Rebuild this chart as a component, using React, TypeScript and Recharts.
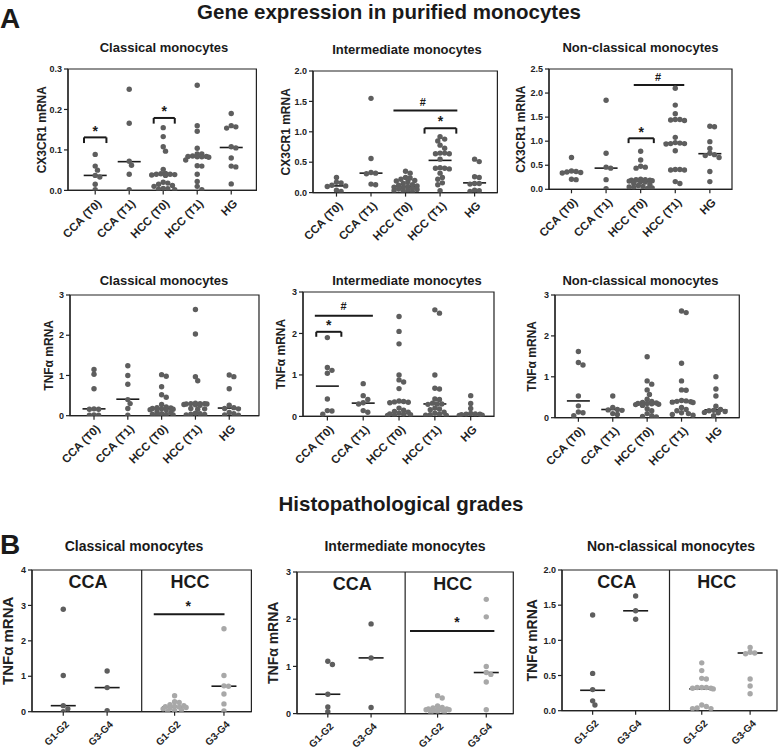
import React from 'react'
import {
  ScatterChart, Scatter, XAxis, YAxis, ReferenceLine, ReferenceArea, ReferenceDot,
} from 'recharts'

const FONT = '"Liberation Sans", Arial, Helvetica, sans-serif'
const DARK = '#5e5e5e'
const LIGHT = '#a8a8a8'
const INK = '#1a1a1a'

// categories
const cohortGroups = ['CCA (T0)', 'CCA (T1)', 'HCC (T0)', 'HCC (T1)', 'HG']
const gradeGroups = ['G1-G2', 'G3-G4', 'G1-G2', 'G3-G4']
const gradeCancers = ['CCA', 'HCC']

// y ticks
const ticksCx3Classical = [0, 0.1, 0.2, 0.3]
const ticksCx3Intermediate = [0, 0.5, 1, 1.5, 2]
const ticksCx3NonClassical = [0, 0.5, 1, 1.5, 2, 2.5]
const ticksTnf = [0, 1, 2, 3]
const ticksGradeClassical = [0, 1, 2, 3, 4]
const ticksGradeIntermediate = [0, 1, 2, 3]
const ticksGradeNonClassical = [0, 0.5, 1, 1.5, 2]

// A: CX3CR1 mRNA, one list per group (CCA T0, CCA T1, HCC T0, HCC T1, HG)
const cx3Classical = [
  [0.089, 0.06, 0.05, 0.037, 0.033, 0.015, 0.002],
  [0.25, 0.166, 0.072, 0.062, 0.04, 0.002],
  [0.155, 0.133, 0.108, 0.097, 0.052, 0.042, 0.041, 0.04, 0.04, 0.039, 0.038, 0.037, 0.02, 0.018, 0.015, 0.012, 0.01, 0.005, 0.004, 0.003, 0.002],
  [0.26, 0.16, 0.146, 0.104, 0.09, 0.09, 0.085, 0.084, 0.084, 0.083, 0.083, 0.082, 0.075, 0.061, 0.06, 0.04, 0.022, 0.01, 0.002],
  [0.19, 0.16, 0.157, 0.154, 0.108, 0.105, 0.08, 0.06, 0.058, 0.016],
]
const cx3ClassicalMedians = [0.037, 0.071, 0.04, 0.084, 0.106]

const cx3Intermediate = [
  [0.25, 0.17, 0.16, 0.12, 0.11, 0.1, 0.04, 0.02],
  [1.55, 0.56, 0.33, 0.32, 0.31, 0.14, 0.13],
  [0.35, 0.32, 0.25, 0.24, 0.22, 0.2, 0.19, 0.18, 0.15, 0.13, 0.12, 0.11, 0.1, 0.09, 0.08, 0.07, 0.06, 0.05, 0.04, 0.03, 0.02, 0.01],
  [0.92, 0.88, 0.85, 0.78, 0.73, 0.65, 0.65, 0.64, 0.64, 0.55, 0.41, 0.4, 0.4, 0.39, 0.32, 0.25, 0.22, 0.16, 0.13, 0.03],
  [0.55, 0.51, 0.26, 0.25, 0.15, 0.15, 0.14, 0.04, 0.03, 0.02],
]
const cx3IntermediateMedians = [0.11, 0.32, 0.1, 0.53, 0.16]

const cx3NonClassical = [
  [0.66, 0.38, 0.37, 0.36, 0.35, 0.34, 0.21, 0.2],
  [1.85, 0.75, 0.46, 0.44, 0.2, 0.01],
  [0.79, 0.61, 0.48, 0.46, 0.44, 0.21, 0.2, 0.2, 0.19, 0.19, 0.18, 0.17, 0.16, 0.15, 0.12, 0.1, 0.08, 0.06, 0.05, 0.04, 0.03, 0.02],
  [2.1, 1.75, 1.57, 1.45, 1.45, 1.44, 1.43, 1.08, 0.97, 0.96, 0.95, 0.95, 0.94, 0.8, 0.41, 0.41, 0.4, 0.4, 0.16, 0.12],
  [1.31, 1.3, 0.99, 0.85, 0.75, 0.72, 0.7, 0.66, 0.37, 0.16],
]
const cx3NonClassicalMedians = [0.36, 0.44, 0.16, 0.96, 0.74]

// A: TNFα mRNA
const tnfClassical = [
  [1.15, 1.03, 0.67, 0.17, 0.16, 0.16, 0.02, 0.01, 0.01],
  [1.24, 1.0, 0.78, 0.4, 0.3, 0.18, 0.01],
  [1.02, 0.98, 0.72, 0.52, 0.46, 0.28, 0.22, 0.2, 0.19, 0.18, 0.17, 0.16, 0.15, 0.15, 0.1, 0.08, 0.05, 0.04, 0.03, 0.02, 0.01],
  [2.64, 2.03, 0.97, 0.87, 0.31, 0.3, 0.3, 0.3, 0.29, 0.29, 0.28, 0.27, 0.26, 0.18, 0.17, 0.16, 0.06, 0.05, 0.04, 0.03, 0.02],
  [1.01, 0.97, 0.67, 0.26, 0.2, 0.18, 0.17, 0.08, 0.05, 0.02, 0.01],
]
const tnfClassicalMedians = [0.17, 0.41, 0.18, 0.29, 0.19]

const tnfIntermediate = [
  [1.9, 1.18, 1.11, 1.04, 0.42, 0.14, 0.13, 0.05],
  [0.79, 0.5, 0.41, 0.33, 0.3, 0.14, 0.1],
  [2.41, 2.05, 1.75, 1.0, 0.88, 0.83, 0.67, 0.37, 0.36, 0.35, 0.34, 0.33, 0.2, 0.15, 0.12, 0.1, 0.08, 0.06, 0.05, 0.04, 0.03, 0.02],
  [2.57, 2.49, 1.0, 0.68, 0.66, 0.42, 0.41, 0.32, 0.3, 0.3, 0.29, 0.2, 0.18, 0.16, 0.1, 0.08, 0.06, 0.04, 0.03, 0.02],
  [0.5, 0.31, 0.19, 0.07, 0.06, 0.05, 0.05, 0.04, 0.03, 0.02],
]
const tnfIntermediateMedians = [0.73, 0.32, 0.34, 0.3, 0.05]

const tnfNonClassical = [
  [1.62, 1.35, 1.29, 0.53, 0.29, 0.14, 0.12, 0.05],
  [0.53, 0.25, 0.2, 0.19, 0.18, 0.1, 0.08],
  [1.49, 0.9, 0.82, 0.68, 0.57, 0.45, 0.4, 0.37, 0.36, 0.35, 0.35, 0.34, 0.33, 0.32, 0.3, 0.22, 0.17, 0.1, 0.05, 0.03, 0.02],
  [2.61, 2.57, 1.33, 0.9, 0.68, 0.67, 0.42, 0.41, 0.4, 0.39, 0.38, 0.37, 0.25, 0.2, 0.17, 0.12, 0.1, 0.08, 0.06],
  [1.0, 0.7, 0.53, 0.28, 0.2, 0.18, 0.17, 0.15, 0.13, 0.12, 0.05],
]
const tnfNonClassicalMedians = [0.41, 0.2, 0.35, 0.41, 0.19]

// B: TNFα mRNA by grade (CCA G1-G2, CCA G3-G4, HCC G1-G2, HCC G3-G4)
const gradeClassical = [
  [2.89, 1.02, 0.17, 0.08, 0.0],
  [1.15, 0.68, 0.03],
  [0.45, 0.28, 0.26, 0.2, 0.17, 0.15, 0.14, 0.13, 0.12, 0.1, 0.08, 0.05, 0.03, 0.01],
  [2.34, 1.02, 0.73, 0.72, 0.5, 0.22, 0.02],
]
const gradeClassicalMedians = [0.17, 0.68, 0.13, 0.72]

const gradeIntermediate = [
  [1.11, 1.04, 0.41, 0.14, 0.04],
  [1.9, 1.18, 0.13],
  [0.38, 0.33, 0.16, 0.13, 0.12, 0.1, 0.1, 0.09, 0.08, 0.08, 0.07, 0.06, 0.05, 0.04, 0.02],
  [2.42, 2.05, 1.0, 0.87, 0.83, 0.67, 0.08],
]
const gradeIntermediateMedians = [0.41, 1.18, 0.08, 0.87]

const gradeNonClassical = [
  [1.36, 0.53, 0.3, 0.14, 0.08],
  [1.63, 1.42, 1.3],
  [0.68, 0.57, 0.46, 0.45, 0.33, 0.33, 0.33, 0.32, 0.32, 0.31, 0.08, 0.06, 0.04, 0.03, 0.03],
  [0.9, 0.83, 0.82, 0.81, 0.45, 0.35, 0.24],
]
const gradeNonClassicalMedians = [0.29, 1.42, 0.31, 0.82]

type Mark = { bracket: boolean; x1: number; x2: number; y: number; drop: number; text: string; tx: number; ty: number }

type PanelCfg = {
  plot: [number, number, number, number]
  xDomain: [number, number]
  yDomain: [number, number]
  yTicks: number[]
  digits: number
  yLabel: string
  yLabelX: number
  yLabelSize: number
  groups: string[]
  positions: number[]
  values: number[][]
  medians: number[]
  colors: string[]
  medianHalfPx: number
  xTickSize: number
  marks: Mark[]
  split?: boolean
}

const cohortPos = [0, 1, 2, 3, 4]
const gradePos = [0.57, 1.37, 2.6, 3.5]
const cohortColors = [DARK, DARK, DARK, DARK, DARK]
const gradeColors = [DARK, DARK, LIGHT, LIGHT]

const bracket = (x1: number, x2: number, y: number, drop: number, text: string, ty: number): Mark =>
  ({ bracket: true, x1, x2, y, drop, text, tx: (x1 + x2) / 2, ty })
const bar = (x1: number, x2: number, y: number, text: string, tx: number, ty: number): Mark =>
  ({ bracket: false, x1, x2, y, drop: 0, text, tx, ty })

const cohort = (p: Partial<PanelCfg>): PanelCfg => ({
  groups: cohortGroups, positions: cohortPos, colors: cohortColors, medianHalfPx: 11.5,
  xTickSize: 11.5, yLabelSize: 12, digits: 1, marks: [], ...p,
} as PanelCfg)

const grade = (p: Partial<PanelCfg>): PanelCfg => ({
  groups: gradeGroups, positions: gradePos, colors: gradeColors, medianHalfPx: 12.5,
  xTickSize: 10, yLabelSize: 14, digits: 0, marks: [], xDomain: [0, 4], split: true, yLabel: 'TNFα mRNA', ...p,
} as PanelCfg)

const panels: PanelCfg[] = [
  cohort({
    plot: [68.3, 69.3, 256.7, 190.7], xDomain: [-0.8, 4.74], yDomain: [0, 0.3], yTicks: ticksCx3Classical,
    yLabel: 'CX3CR1 mRNA', yLabelX: 42, values: cx3Classical, medians: cx3ClassicalMedians,
    marks: [bracket(-0.33, 0.33, 0.131, 0.014, '*', 0.147), bracket(1.72, 2.34, 0.179, 0.014, '*', 0.195)],
  }),
  cohort({
    plot: [313.3, 70.7, 497.7, 192.3], xDomain: [-0.68, 4.66], yDomain: [0, 2], yTicks: ticksCx3Intermediate,
    yLabel: 'CX3CR1 mRNA', yLabelX: 286.7, values: cx3Intermediate, medians: cx3IntermediateMedians,
    marks: [bar(1.65, 3.5, 1.35, '#', 2.5, 1.49), bracket(2.55, 3.47, 1.06, 0.09, '*', 1.18)],
  }),
  cohort({
    plot: [549.3, 69, 732.3, 189.3], xDomain: [-0.65, 4.64], yDomain: [0, 2.5], yTicks: ticksCx3NonClassical,
    yLabel: 'CX3CR1 mRNA', yLabelX: 521, values: cx3NonClassical, medians: cx3NonClassicalMedians,
    marks: [bar(1.8, 3.26, 2.17, '#', 2.5, 2.34), bracket(1.65, 2.38, 1.06, 0.1, '*', 1.19)],
  }),
  cohort({
    plot: [70, 295, 259, 415.7], xDomain: [-0.71, 4.88], yDomain: [0, 3], yTicks: ticksTnf, digits: 0,
    yLabel: 'TNFα mRNA', yLabelX: 48.5, values: tnfClassical, medians: tnfClassicalMedians,
  }),
  cohort({
    plot: [303.3, 292.3, 494.3, 416.7], xDomain: [-0.68, 4.65], yDomain: [0, 3], yTicks: ticksTnf, digits: 0,
    yLabel: 'TNFα mRNA', yLabelX: 281.7, values: tnfIntermediate, medians: tnfIntermediateMedians,
    marks: [bar(-0.35, 1.27, 2.43, '#', 0.45, 2.65), bracket(-0.31, 0.39, 2.04, 0.12, '*', 2.2)],
  }),
  cohort({
    plot: [555, 295, 739.3, 417.7], xDomain: [-0.68, 4.68], yDomain: [0, 3], yTicks: ticksTnf, digits: 0,
    yLabel: 'TNFα mRNA', yLabelX: 532, values: tnfNonClassical, medians: tnfNonClassicalMedians,
  }),
  grade({
    plot: [32.3, 570, 251.7, 711.7], yDomain: [0, 4], yTicks: ticksGradeClassical, yLabelX: 8, yLabelSize: 15,
    values: gradeClassical, medians: gradeClassicalMedians,
    marks: [bar(2.22, 3.51, 2.75, '*', 2.85, 2.97)],
  }),
  grade({
    plot: [296.7, 571.7, 513, 713.3], yDomain: [0, 3], yTicks: ticksGradeIntermediate, yLabelX: 273,
    values: gradeIntermediate, medians: gradeIntermediateMedians,
    marks: [bar(2.09, 3.65, 1.75, '*', 2.96, 1.93)],
  }),
  grade({
    plot: [561.7, 570, 776.7, 710.7], yDomain: [0, 2], yTicks: ticksGradeNonClassical, digits: 1, yLabelX: 532,
    values: gradeNonClassical, medians: gradeNonClassicalMedians,
  }),
]

const titles = [
  { text: 'Gene expression in purified monocytes', x: 389, y: 12.5, size: 20.5 },
  { text: 'Classical monocytes', x: 164, y: 47.5, size: 13 },
  { text: 'Intermediate monocytes', x: 407, y: 49, size: 13 },
  { text: 'Non-classical monocytes', x: 640.5, y: 47.5, size: 13 },
  { text: 'Classical monocytes', x: 164, y: 280, size: 13 },
  { text: 'Intermediate monocytes', x: 407, y: 280, size: 13 },
  { text: 'Non-classical monocytes', x: 640.5, y: 280, size: 13 },
  { text: 'Histopathological grades', x: 401, y: 504, size: 20.5 },
  { text: 'Classical monocytes', x: 134, y: 545.5, size: 14 },
  { text: 'Intermediate monocytes', x: 405, y: 545.5, size: 14 },
  { text: 'Non-classical monocytes', x: 671, y: 545.5, size: 14 },
]

// spreads tied values sideways so dots sit next to each other, GraphPad style
function beeswarm(values: number[], pxX: number, pxY: number, diam: number, maxPx: number): number[] {
  const placed: { dx: number; py: number }[] = []
  const step = diam / 2
  return values.map((v) => {
    const py = v * pxY
    let chosen = 0
    let best = Infinity
    for (let k = 0; k < 40; k++) {
      const n = Math.ceil(k / 2)
      const dx = (k % 2 === 1 ? 1 : -1) * n * step
      if (Math.abs(dx) > maxPx) break
      const hit = placed.reduce((s, q) => s + Math.max(0, diam * diam - ((q.dx - dx) ** 2 + (q.py - py) ** 2)), 0)
      if (hit === 0) { chosen = dx; best = 0; break }
      if (hit < best) { best = hit; chosen = dx }
    }
    placed.push({ dx: chosen, py })
    return chosen / pxX
  })
}

function Panel({ cfg }: { cfg: PanelCfg }) {
  const [x0, y0, x1, y1] = cfg.plot
  const YW = 60, T = 14, R = 4, XH = 70
  const w = x1 - x0 + YW + R
  const h = y1 - y0 + T + XH
  const pxX = (x1 - x0) / (cfg.xDomain[1] - cfg.xDomain[0])
  const pxY = (y1 - y0) / (cfg.yDomain[1] - cfg.yDomain[0])
  const series = cfg.values.map((vals, g) => {
    const offs = beeswarm(vals, pxX, pxY, 4.6, 12)
    return vals.map((v, i) => ({ x: cfg.positions[g] + offs[i], y: v }))
  })
  const half = cfg.medianHalfPx / pxX
  const labelCx = cfg.yLabelX - (x0 - YW)
  const labelCy = T + (y1 - y0) / 2
  const axisStyle = { stroke: '#222', strokeWidth: 1.2 }
  const yTop = cfg.yDomain[1]

  const xTick = (props: any) => {
    const { x, y, payload } = props
    const idx = cfg.positions.indexOf(payload.value)
    const ax = x + 4, ay = y + 5
    return (
      <text x={ax} y={ay} transform={`rotate(-45 ${ax} ${ay})`} textAnchor="end" dominantBaseline="central"
        fontSize={cfg.xTickSize} fontWeight="bold" fill="#222" fontFamily={FONT}>
        {cfg.groups[idx]}
      </text>
    )
  }

  return (
    <div style={{ position: 'absolute', left: x0 - YW, top: y0 - T }}>
      <ScatterChart width={w} height={h} margin={{ top: T, right: R, bottom: 0, left: 0 }}>
        <XAxis type="number" dataKey="x" domain={cfg.xDomain} ticks={cfg.positions} interval={0}
          allowDataOverflow height={XH} tickSize={4} tick={xTick} axisLine={axisStyle} tickLine={axisStyle} />
        <YAxis type="number" dataKey="y" domain={cfg.yDomain} ticks={cfg.yTicks} interval={0}
          allowDataOverflow width={YW} tickSize={4} tickLine={axisStyle} axisLine={axisStyle}
          tickFormatter={(v: number) => v.toFixed(cfg.digits)}
          tick={{ fontSize: 9, fontWeight: 'bold', fill: '#222', fontFamily: FONT }}
          label={() => (
            <text x={labelCx} y={labelCy} transform={`rotate(-90 ${labelCx} ${labelCy})`} textAnchor="middle"
              dominantBaseline="central" fontSize={cfg.yLabelSize} fontWeight="bold" fill="#222" fontFamily={FONT}>
              {cfg.yLabel}
            </text>
          )} />
        <ReferenceArea x1={cfg.xDomain[0]} x2={cfg.xDomain[1]} y1={cfg.yDomain[0]} y2={yTop}
          fill="none" stroke="#222" strokeWidth={1.2} ifOverflow="visible" />
        {cfg.split && <ReferenceLine x={2} stroke="#222" strokeWidth={1.2} />}
        {cfg.split && gradeCancers.map((c, i) => (
          <ReferenceDot key={c} x={i === 0 ? 1.02 : 2.88} y={yTop - 12 / pxY} r={1} fill="none" stroke="none"
            ifOverflow="visible"
            label={{ value: c, position: 'center', fill: INK, fontSize: 18, fontWeight: 'bold', fontFamily: FONT }} />
        ))}
        {cfg.marks.map((m, i) => (
          <React.Fragment key={i}>
            <ReferenceLine segment={[{ x: m.x1, y: m.y }, { x: m.x2, y: m.y }]} stroke={INK} strokeWidth={2}
              ifOverflow="visible" />
            {m.bracket && (
              <ReferenceLine segment={[{ x: m.x1, y: m.y }, { x: m.x1, y: m.y - m.drop }]} stroke={INK}
                strokeWidth={2} ifOverflow="visible" />
            )}
            {m.bracket && (
              <ReferenceLine segment={[{ x: m.x2, y: m.y }, { x: m.x2, y: m.y - m.drop }]} stroke={INK}
                strokeWidth={2} ifOverflow="visible" />
            )}
            <ReferenceDot x={m.tx} y={m.ty} r={1} fill="none" stroke="none" ifOverflow="visible"
              label={{ value: m.text, position: 'center', fill: INK, fontSize: m.text === '*' ? 14 : 11,
                fontWeight: 'bold', fontFamily: FONT }} />
          </React.Fragment>
        ))}
        {series.map((pts, g) => (
          <Scatter key={g} data={pts} fill={cfg.colors[g]} isAnimationActive={false}
            shape={(p: any) => <circle cx={p.cx} cy={p.cy} r={2.7} fill={cfg.colors[g]} />} />
        ))}
        {cfg.medians.map((m, g) => (
          <ReferenceLine key={`m${g}`} segment={[{ x: cfg.positions[g] - half, y: m }, { x: cfg.positions[g] + half, y: m }]}
            stroke={INK} strokeWidth={1.6} ifOverflow="visible" />
        ))}
      </ScatterChart>
    </div>
  )
}

export default function App() {
  return (
    <div style={{ position: 'absolute', left: 0, top: 0, width: 778, height: 753, background: '#fff',
      overflow: 'hidden', fontFamily: FONT, color: INK }}>
      <div style={{ position: 'absolute', left: 0, top: 18.5 - 0.49 * 28, fontSize: 28, lineHeight: '28px', fontWeight: 'bold' }}>A</div>
      <div style={{ position: 'absolute', left: 0, top: 545 - 0.49 * 28, fontSize: 28, lineHeight: '28px', fontWeight: 'bold' }}>B</div>
      {titles.map((t, i) => (
        <div key={i} style={{ position: 'absolute', left: t.x - 300, width: 600, top: t.y - 0.49 * t.size,
          textAlign: 'center', fontSize: t.size, lineHeight: `${t.size}px`, fontWeight: 'bold', whiteSpace: 'nowrap' }}>
          {t.text}
        </div>
      ))}
      {panels.map((p, i) => <Panel key={i} cfg={p} />)}
    </div>
  )
}
